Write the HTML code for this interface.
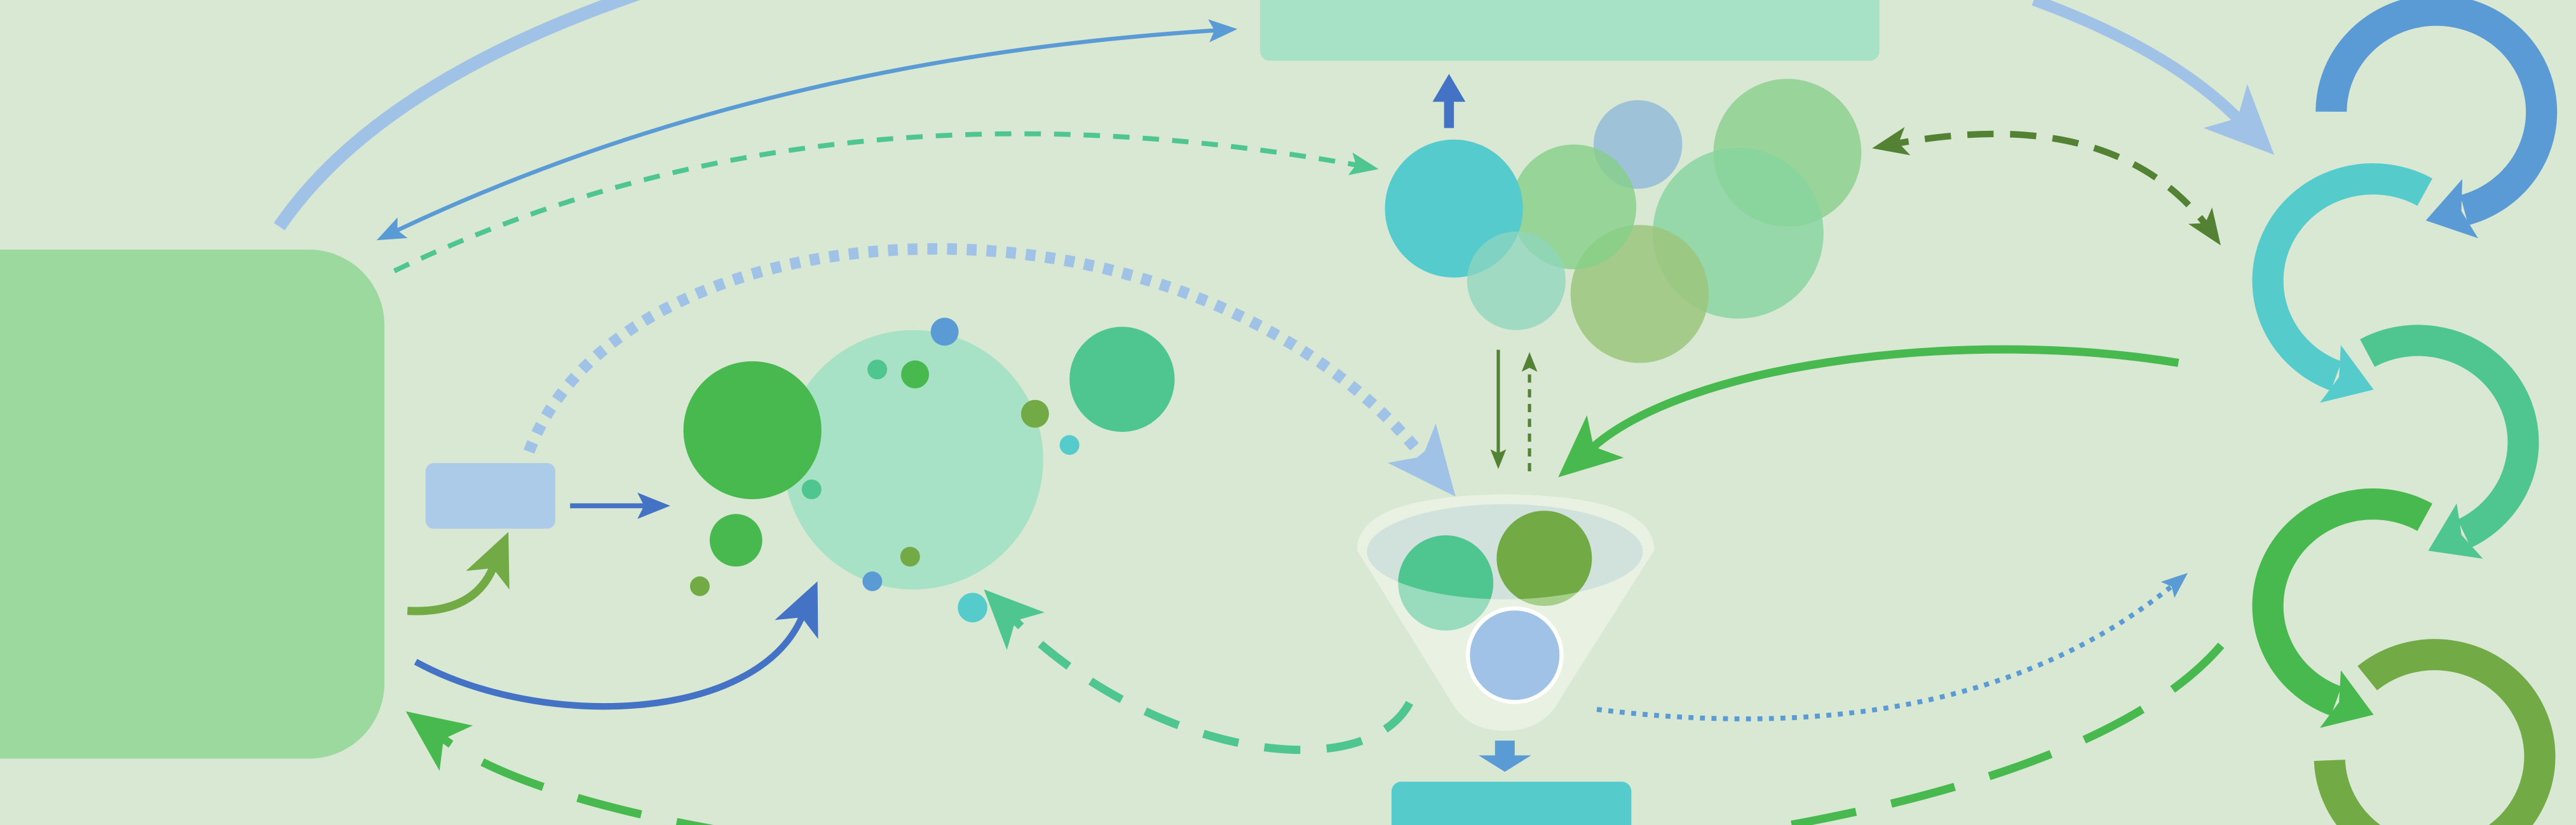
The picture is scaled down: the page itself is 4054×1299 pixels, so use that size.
<!DOCTYPE html>
<html><head><meta charset="utf-8"><style>
html,body{margin:0;padding:0;background:#d8e8d3;width:4054px;height:1299px;overflow:hidden;}
svg{display:block;overflow:hidden;}
</style></head><body>
<svg width="4054" height="1299" viewBox="0 0 1568 502.4" preserveAspectRatio="none" xmlns="http://www.w3.org/2000/svg">
<defs>
<marker id="aBlue" markerUnits="userSpaceOnUse" viewBox="0 0 30 40" refX="4" refY="20" markerWidth="28" markerHeight="40" orient="auto"><path d="M0,0 L30,20 L0,40 L6,20 Z" fill="#5b9bd5"/></marker>
<marker id="aCyan" markerUnits="userSpaceOnUse" viewBox="0 0 30 40" refX="4" refY="20" markerWidth="28" markerHeight="40" orient="auto"><path d="M0,0 L30,20 L0,40 L6,20 Z" fill="#56cbcb"/></marker>
<marker id="aTeal" markerUnits="userSpaceOnUse" viewBox="0 0 30 40" refX="4" refY="20" markerWidth="28" markerHeight="40" orient="auto"><path d="M0,0 L30,20 L0,40 L6,20 Z" fill="#4fc58f"/></marker>
<marker id="aGreen" markerUnits="userSpaceOnUse" viewBox="0 0 30 40" refX="4" refY="20" markerWidth="28" markerHeight="40" orient="auto"><path d="M0,0 L30,20 L0,40 L6,20 Z" fill="#48b94e"/></marker>
<marker id="cDB" markerUnits="userSpaceOnUse" viewBox="0 0 20 16" refX="14" refY="8" markerWidth="18" markerHeight="14" orient="auto-start-reverse"><path d="M0,0 L20,8 L0,16 L4,8 Z" fill="#5b9bd5"/></marker>
<marker id="cNav" markerUnits="userSpaceOnUse" viewBox="0 0 20 16" refX="14" refY="8" markerWidth="20" markerHeight="16" orient="auto"><path d="M0,0 L20,8 L0,16 L4,8 Z" fill="#4472c4"/></marker>
<marker id="cTeal" markerUnits="userSpaceOnUse" viewBox="0 0 20 16" refX="14" refY="8" markerWidth="18" markerHeight="14" orient="auto-start-reverse"><path d="M0,0 L20,8 L0,16 L4,8 Z" fill="#4fc58f"/></marker>
<marker id="cDG" markerUnits="userSpaceOnUse" viewBox="0 0 20 16" refX="14" refY="8" markerWidth="22" markerHeight="18" orient="auto-start-reverse"><path d="M0,0 L20,8 L0,16 L5,8 Z" fill="#548235"/></marker>
<marker id="cDG2" markerUnits="userSpaceOnUse" viewBox="0 0 20 16" refX="14" refY="8" markerWidth="12" markerHeight="10" orient="auto"><path d="M0,0 L20,8 L0,16 L4,8 Z" fill="#548235"/></marker>
<marker id="bLB" markerUnits="userSpaceOnUse" viewBox="0 0 40 40" refX="10" refY="20" markerWidth="42" markerHeight="42" orient="auto"><path d="M0,2 L40,20 L0,38 L10,20 Z" fill="#9fc2e6"/></marker>
<marker id="bGr" markerUnits="userSpaceOnUse" viewBox="0 0 40 40" refX="10" refY="20" markerWidth="38" markerHeight="38" orient="auto"><path d="M0,2 L40,20 L0,38 L10,20 Z" fill="#48b94e"/></marker>
<marker id="bTeal" markerUnits="userSpaceOnUse" viewBox="0 0 40 40" refX="10" refY="20" markerWidth="36" markerHeight="36" orient="auto"><path d="M0,2 L40,20 L0,38 L10,20 Z" fill="#4fc58f"/></marker>
<marker id="bOl" markerUnits="userSpaceOnUse" viewBox="0 0 40 40" refX="10" refY="20" markerWidth="32" markerHeight="32" orient="auto"><path d="M0,2 L40,20 L0,38 L10,20 Z" fill="#72ab46"/></marker>
<marker id="bNav" markerUnits="userSpaceOnUse" viewBox="0 0 40 40" refX="10" refY="20" markerWidth="32" markerHeight="32" orient="auto"><path d="M0,2 L40,20 L0,38 L10,20 Z" fill="#4472c4"/></marker>
<marker id="cDot" markerUnits="userSpaceOnUse" viewBox="0 0 20 16" refX="14" refY="8" markerWidth="16" markerHeight="13" orient="auto"><path d="M0,0 L20,8 L0,16 L4,8 Z" fill="#5b9bd5"/></marker>
</defs>
<rect width="1568" height="502.4" fill="#d8e8d3"/>

<rect x="767" y="-12" width="377" height="49" rx="6" fill="#a8e2c6"/>
<rect x="-50" y="152" width="284" height="310" rx="46" fill="#9bd99e"/>
<rect x="259" y="282" width="79" height="40" rx="5" fill="#abcbe9"/>
<rect x="847" y="476" width="146" height="40" rx="6" fill="#56cbcb"/>

<path d="M170 138 Q 230 50 392 -5" fill="none" stroke="#9fc2e6" stroke-width="8"/>
<path d="M234 144 Q 460 35 748 18" fill="none" stroke="#5b9bd5" stroke-width="2.5" marker-start="url(#cDB)" marker-end="url(#cDB)"/>
<path d="M240 165 Q 500 40 834 102" fill="none" stroke="#4fc58f" stroke-width="3" stroke-dasharray="10 8" marker-end="url(#cTeal)"/>
<path d="M322 275 C 380 120, 720 100, 866 278" fill="none" stroke="#9fc2e6" stroke-width="7" stroke-dasharray="6 6" marker-end="url(#bLB)"/>
<path d="M1238 0 Q 1320 30 1362 72" fill="none" stroke="#9fc2e6" stroke-width="7" marker-end="url(#bLB)"/>
<path d="M1146 89 Q 1290 60 1348 144" fill="none" stroke="#548235" stroke-width="4" stroke-dasharray="16 10" marker-start="url(#cDG)" marker-end="url(#cDG)"/>
<path d="M1326 221 C 1200 200, 1030 220, 970 272" fill="none" stroke="#48b94e" stroke-width="5" marker-end="url(#bGr)"/>
<path d="M248 372 Q 288 374 300 346" fill="none" stroke="#72ab46" stroke-width="5" marker-end="url(#bOl)"/>
<path d="M253 403 C 330 445, 460 440, 488 376" fill="none" stroke="#4472c4" stroke-width="4" marker-end="url(#bNav)"/>
<path d="M858 428 C 830 480, 700 460, 618 378" fill="none" stroke="#4fc58f" stroke-width="5" stroke-dasharray="22 16" marker-end="url(#bTeal)"/>
<path d="M972 432 Q 1200 460 1328 352" fill="none" stroke="#5b9bd5" stroke-width="3" stroke-dasharray="3 4" marker-end="url(#cDot)"/>
<path d="M1352 393 C 1200 570, 420 560, 270 450" fill="none" stroke="#48b94e" stroke-width="5" stroke-dasharray="40 22" marker-end="url(#bGr)"/>
<path d="M347 308 L 402 308" stroke="#4472c4" stroke-width="3" marker-end="url(#cNav)"/>
<path d="M912 213 L 912 282" stroke="#548235" stroke-width="2" marker-end="url(#cDG2)"/>
<path d="M931 287 L 931 218" stroke="#548235" stroke-width="2" stroke-dasharray="5 4" marker-end="url(#cDG2)"/>

<path d="M879 78 L879 62 L872 62 L882 45 L892 62 L885 62 L885 78 Z" fill="#4472c4"/>
<path d="M910 451 L922 451 L922 460 L932 460 L916 470 L900 460 L910 460 Z" fill="#5b9bd5"/>

<circle cx="556" cy="280" r="79" fill="#a8e2c6"/>
<circle cx="458" cy="262" r="42" fill="#48b94e"/>
<circle cx="683" cy="231" r="32" fill="#4fc58f"/>
<circle cx="448" cy="329" r="16" fill="#48b94e"/>
<circle cx="575" cy="202" r="8.5" fill="#5b9bd5"/>
<circle cx="534" cy="225" r="6" fill="#4fc58f"/>
<circle cx="557" cy="228" r="8.5" fill="#48b94e"/>
<circle cx="630" cy="252" r="8.5" fill="#72ab46"/>
<circle cx="651" cy="271" r="6" fill="#56cbcb"/>
<circle cx="494" cy="298" r="6" fill="#4fc58f"/>
<circle cx="554" cy="339" r="6" fill="#72ab46"/>
<circle cx="531" cy="354" r="6" fill="#5b9bd5"/>
<circle cx="592" cy="370" r="9" fill="#56cbcb"/>
<circle cx="426" cy="357" r="6" fill="#72ab46"/>

<circle cx="1088" cy="93" r="45" fill="#8ed08f" opacity="0.85"/>
<circle cx="1058" cy="142" r="52" fill="#86d39f" opacity="0.8"/>
<circle cx="997" cy="88" r="27" fill="#94bcd8" opacity="0.85"/>
<circle cx="998" cy="179" r="42" fill="#9cc67c" opacity="0.85"/>
<circle cx="958" cy="126" r="38" fill="#86cf88" opacity="0.8"/>
<circle cx="885" cy="127" r="42" fill="#55cbcd"/>
<circle cx="923" cy="171" r="30" fill="#8fd6bd" opacity="0.75"/>

<path d="M826 335 Q 826 302 916 301 Q 1007 302 1007 335 L 950 425 Q 940 445 916 445 Q 892 445 882 425 Z" fill="#e9f1e3"/>
<circle cx="880" cy="355" r="29" fill="#98dcbd"/>
<circle cx="940" cy="340" r="29" fill="#a6cf8a"/>
<ellipse cx="916" cy="336" rx="84" ry="29" fill="#d1e2dc"/>
<clipPath id="ec"><ellipse cx="916" cy="336" rx="84" ry="29"/></clipPath>
<g clip-path="url(#ec)">
<circle cx="880" cy="355" r="29" fill="#4fc58f"/>
<circle cx="940" cy="340" r="29" fill="#72ab46"/>
</g>
<circle cx="922" cy="399" r="28.5" fill="#9fc2e6" stroke="#ffffff" stroke-width="2.5"/>

<path d="M1419 68 A 64 62 0 1 1 1500 128" fill="none" stroke="#5b9bd5" stroke-width="19" marker-end="url(#aBlue)"/>
<path d="M1476 117 A 64 62 0 1 0 1422 229" fill="none" stroke="#56cbcb" stroke-width="19" marker-end="url(#aCyan)"/>
<path d="M1441 215 A 64 62 0 1 1 1500 325" fill="none" stroke="#4fc58f" stroke-width="19" marker-end="url(#aTeal)"/>
<path d="M1476 315 A 64 62 0 1 0 1422 427" fill="none" stroke="#48b94e" stroke-width="19" marker-end="url(#aGreen)"/>
<path d="M1441 413 A 64 62 0 1 1 1418 463" fill="none" stroke="#72ab46" stroke-width="19"/>
</svg>
</body></html>
